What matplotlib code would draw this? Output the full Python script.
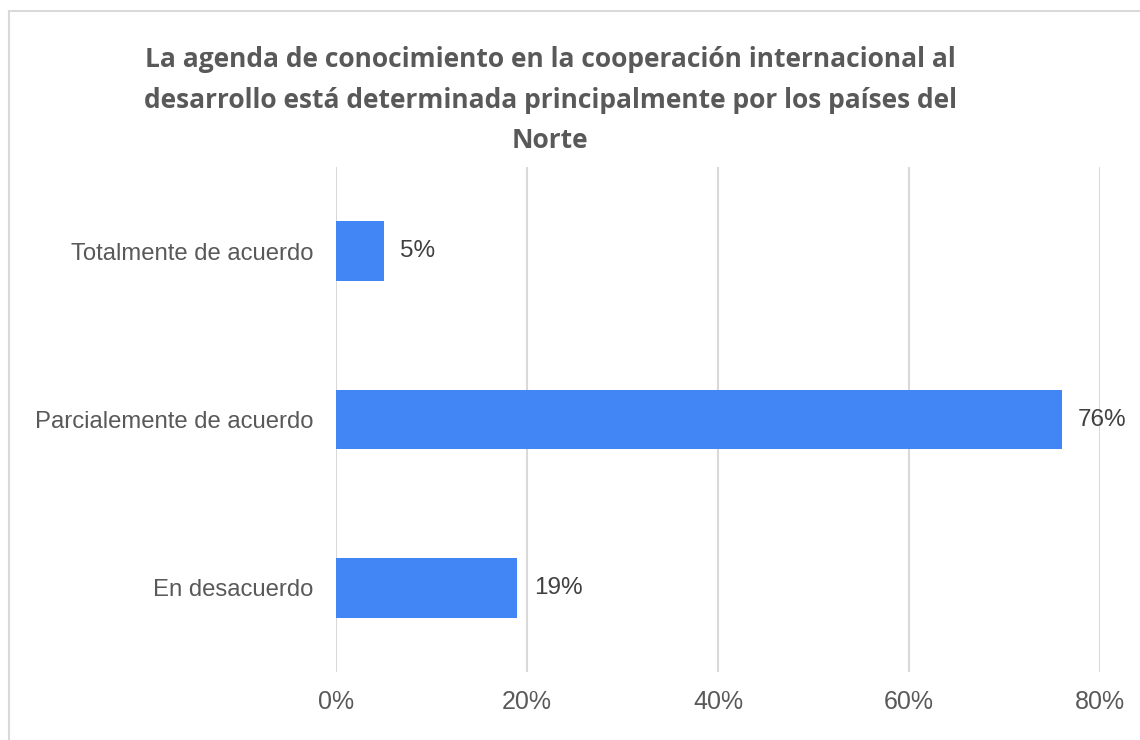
import matplotlib
matplotlib.use("Agg")
import matplotlib.pyplot as plt
from matplotlib.patches import Rectangle

categories = ["Totalmente de acuerdo", "Parcialemente de acuerdo", "En desacuerdo"]
values = [5, 76, 19]
xticks = [0, 20, 40, 60, 80]
title = ("La agenda de conocimiento en la cooperación internacional al\n"
         "desarrollo está determinada principalmente por los países del\n"
         "Norte")

W, H = 1140, 740
fig = plt.figure(figsize=(W / 100, H / 100), dpi=100)
fig.patch.set_facecolor("white")

# plot area in pixels: x 336..1100, y 167..672
ax = fig.add_axes([336 / W, 1 - 672 / H, (1100 - 336) / W, (672 - 167) / H])

ypos = list(range(len(categories)))
ax.barh(ypos, values, height=0.355, color="#4285F4", zorder=3)
for y, v in zip(ypos, values):
    ax.text(v + 1.7, y, f"{v}%", va="center", ha="left",
            fontsize=17.5, color="#404040", family="Liberation Sans", zorder=4)

ax.set_ylim(len(categories) - 0.5, -0.5)
ax.set_xlim(0, 80)
ax.set_yticks(ypos)
ax.set_yticklabels(categories, fontsize=17.2, color="#595959", family="Liberation Sans")
ax.set_xticks(xticks)
ax.set_xticklabels([f"{t}%" for t in xticks], fontsize=18, color="#595959",
                   family="Liberation Sans")
ax.tick_params(axis="both", length=0)
ax.tick_params(axis="y", pad=16.5)
ax.tick_params(axis="x", pad=13)
ax.grid(axis="x", color="#D9D9D9", linewidth=1.5, zorder=0)
for s in ax.spines.values():
    s.set_visible(False)

fig.text(550 / W, 1 - 100 / H, title, ha="center", va="center",
         fontsize=19, fontweight="bold", color="#595959",
         family="Open Sans", linespacing=1.62)

fig.patches.append(Rectangle((9 / W, -0.1), 1.2, 1.1 - 11 / H,
                             transform=fig.transFigure, fill=False,
                             edgecolor="#D9D9D9", linewidth=1.5))

fig.savefig("out.png", dpi=100)
